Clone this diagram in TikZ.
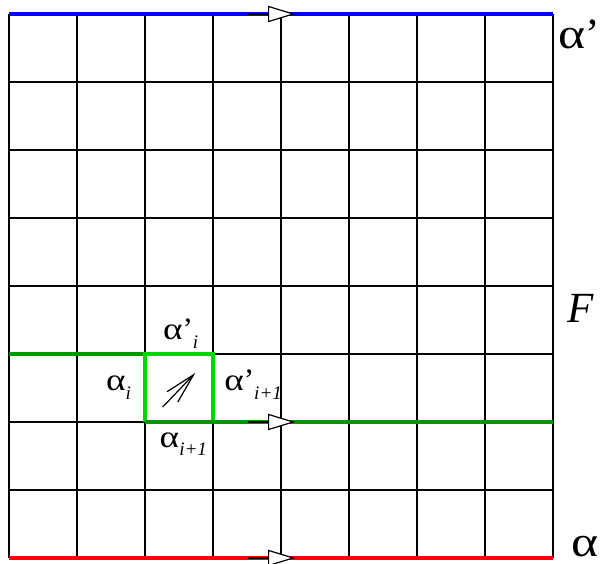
\documentclass[tikz,border=0pt]{standalone}
\usepackage{fontspec}
\setmainfont{Liberation Serif}
\usepackage{xcolor}
\usetikzlibrary{arrows.meta}

\definecolor{darkgreen}{RGB}{0,150,0}
\definecolor{lightgreen}{RGB}{0,215,0}
\newcommand{\alsub}[1]{\raisebox{-0.28em}{\fontsize{8}{9}\selectfont\itshape #1}}
\newcommand{\walpha}{\scalebox{1.2}[1]{α}}

\tikzset{
  gridline/.style={line width=0.7pt},
  edgeline/.style={line width=1.6pt},
  flowtip/.style={line width=0.5pt, black,
    -{Triangle[open, fill=white, length=0.4cm, width=0.24cm]}},
  biglab/.style={anchor=base west, inner sep=0pt, font=\fontsize{18}{20}\selectfont},
  smalllab/.style={anchor=base west, inner sep=0pt, font=\fontsize{13}{15}\selectfont}
}

\begin{document}
\begin{tikzpicture}
\useasboundingbox (-0.132,-0.088) rectangle (8.81,8.206);
\draw[gridline] (0,0) grid (8,8);
% the two boundary curves
\draw[edgeline, blue] (0,8) -- (8,8);
\draw[edgeline, red] (0,0) -- (8,0);
% the path through the cell
\draw[edgeline, darkgreen] (0,3) -- (2,3);
\draw[edgeline, lightgreen] (2,2) -- (2,3) -- (3,3) -- (3,2);
\draw[edgeline, darkgreen] (2,2) -- (8,2);
% direction marks
\draw[flowtip] (3.51,8) -- (4.21,8);
\draw[flowtip] (3.51,2) -- (4.21,2);
\draw[flowtip] (3.51,0) -- (4.21,0);
\draw[line width=0.5pt, -{Straight Barb[length=0.45cm, width=0.22cm]}] (2.26,2.22) -- (2.74,2.72);
% labels
\node[biglab] (atop) at (8.07,7.5) {\walpha’};
\node[biglab] (fsurf) at (8.2,3.47) {\itshape F};
\node[biglab] (abot) at (8.27,0.02) {\walpha};
\node[smalllab] (ai) at (1.42,2.46) {\walpha\alsub{i}};
\node[smalllab] (aip) at (2.26,3.21) {\walpha’\alsub{i}};
\node[smalllab] (anp) at (3.16,2.46) {\walpha’\alsub{i+1}};
\node[smalllab] (an) at (2.21,1.63) {\walpha\alsub{i+1}};
\end{tikzpicture}
\end{document}
